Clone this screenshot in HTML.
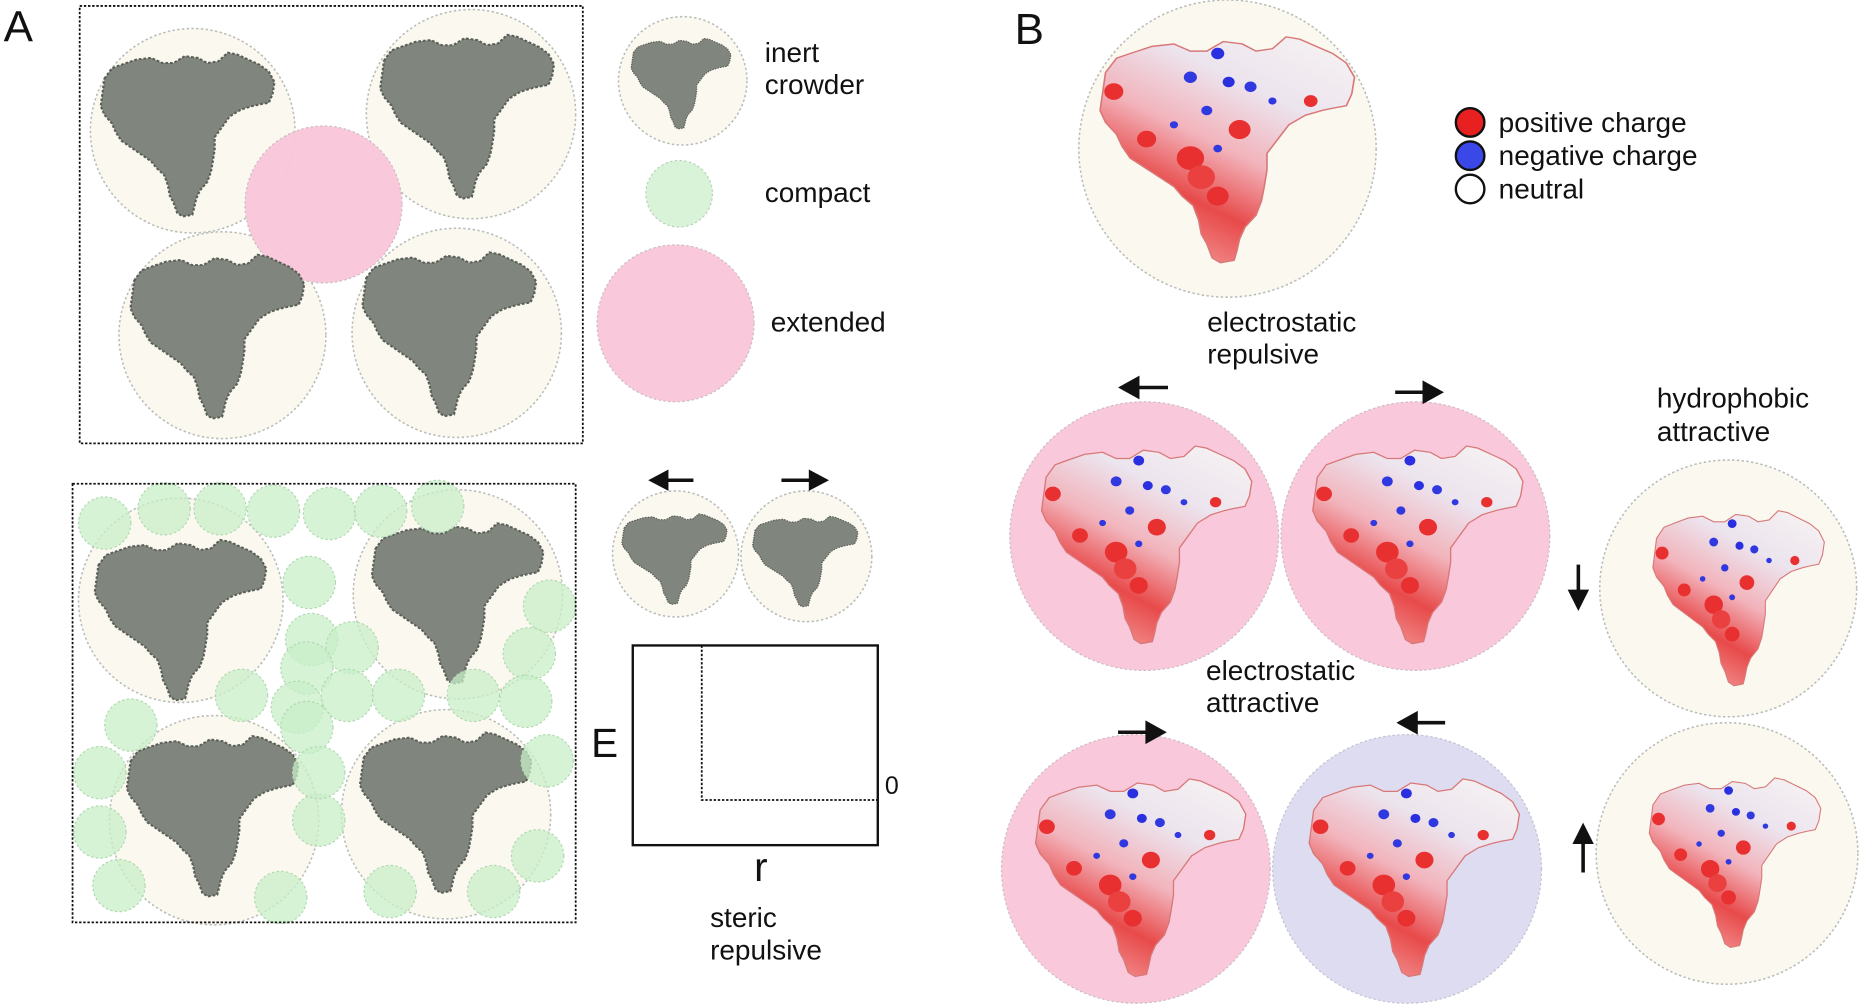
<!DOCTYPE html>
<html><head><meta charset="utf-8"><style>
html,body{margin:0;padding:0;background:#fff;}
svg{display:block;}
text{font-family:"Liberation Sans",sans-serif;fill:#111;}
</style></head><body>
<svg width="1865" height="1008" viewBox="0 0 1568 848" preserveAspectRatio="none" xmlns="http://www.w3.org/2000/svg">
<defs>
<path id="prot" d="M5,18 L9,12 L14,10 L22,7 L30,6 L36,9 L42,9 L48,5 L55,6 L60,9 L66,8 L71,3 L76,4 L82,7 L88,10 L93,14 L96,20 L95,27 L93,32 L88,33 L84,34 L78,36 L72,40 L68,46 L64,52 L64,59 L63,66 L62,72 L60,78 L56,83 L54,88 L53,93 L52,97 L47,98 L44,96 L42,90 L40,86 L39,80 L37,74 L33,70 L30,66 L26,63 L22,60 L18,57 L14,54 L11,49 L9,44 L5,39 L3,34 L4,26 Z"/>
<linearGradient id="elec" x1="0.9" y1="0" x2="0.35" y2="1">
<stop offset="0" stop-color="#f6f2f2"/><stop offset="0.3" stop-color="#ece4ee"/><stop offset="0.55" stop-color="#f2b4bc"/><stop offset="0.78" stop-color="#e84a4a"/><stop offset="1" stop-color="#f29090"/>
</linearGradient>
<g id="eprot">
<use href="#prot" fill="url(#elec)" stroke="#d87878" stroke-width="0.6"/>
<circle cx="46" cy="10" r="2.4" fill="#2a30e0"/><circle cx="36" cy="20" r="2.4" fill="#3038e0"/><circle cx="50" cy="22" r="2.2" fill="#2a30e0"/><circle cx="58" cy="24" r="2.2" fill="#3038e0"/><circle cx="42" cy="34" r="2" fill="#3038e0"/><circle cx="30" cy="40" r="1.5" fill="#3038e0"/><circle cx="46" cy="50" r="1.6" fill="#3038e0"/><circle cx="66" cy="30" r="1.5" fill="#3038e0"/>
<circle cx="8" cy="26" r="3.5" fill="#e83030"/><circle cx="20" cy="46" r="3.5" fill="#e83030"/><circle cx="36" cy="54" r="5" fill="#e83030"/><circle cx="54" cy="42" r="4" fill="#e83030"/><circle cx="46" cy="70" r="4" fill="#e83030"/><circle cx="80" cy="30" r="2.5" fill="#e83030"/><circle cx="40" cy="62" r="5" fill="#ea4040"/>
</g>
<g id="gprot"><use href="#prot" fill="#80867e" stroke="#5a6058" stroke-width="1.2" stroke-dasharray="1.5 1"/></g>
</defs>
<g fill="#faf8ef" stroke="#b8bdb8" stroke-width="1.3" stroke-dasharray="2 2">
<circle cx="162" cy="110" r="86"/>
<circle cx="396" cy="96" r="88"/>
<circle cx="187" cy="282" r="87"/>
<circle cx="384" cy="280" r="88"/>
<circle cx="574" cy="68" r="54"/>
<circle cx="152" cy="505" r="86"/>
<circle cx="385" cy="500" r="88"/>
<circle cx="180" cy="690" r="88"/>
<circle cx="375" cy="685" r="88"/>
<circle cx="568" cy="466" r="53"/>
<circle cx="678" cy="468" r="55"/>
<circle cx="1032" cy="125" r="125"/>
<circle cx="1453" cy="495" r="108"/>
<circle cx="1452" cy="718" r="110"/>
</g>
<g fill="#f9c6da" stroke="#c8b8c0" stroke-width="1" stroke-dasharray="2 2" opacity="0.95">
<circle cx="272" cy="172" r="66"/>
<circle cx="568" cy="272" r="66"/>
<circle cx="962" cy="451" r="113"/>
<circle cx="1190" cy="451" r="113"/>
<circle cx="955" cy="731" r="113"/>
</g>
<circle cx="1183" cy="731" r="113" fill="#dedcf0" stroke="#c0c0d0" stroke-dasharray="2 2"/>
<circle cx="571" cy="163" r="28" fill="#d8f3d8" stroke="#b8d0b8" stroke-dasharray="2 2"/>
<g>
<use href="#gprot" transform="translate(80,40) scale(1.57,1.45)"/>
<use href="#gprot" transform="translate(315,25) scale(1.57,1.45)"/>
<use href="#gprot" transform="translate(105,210) scale(1.57,1.45)"/>
<use href="#gprot" transform="translate(300,208) scale(1.57,1.45)"/>
<use href="#gprot" transform="translate(528,30) scale(0.9,0.8)"/>
<use href="#gprot" transform="translate(75,450) scale(1.55,1.42)"/>
<use href="#gprot" transform="translate(308,436) scale(1.55,1.42)"/>
<use href="#gprot" transform="translate(102,615) scale(1.55,1.42)"/>
<use href="#gprot" transform="translate(298,612) scale(1.55,1.42)"/>
<use href="#gprot" transform="translate(520,430) scale(0.95,0.8)"/>
<use href="#gprot" transform="translate(630,432) scale(0.95,0.8)"/>
</g>
<g fill="#c8efc8" fill-opacity="0.75" stroke="#b0d8b0" stroke-dasharray="2 2">
<circle cx="88" cy="440" r="22"/><circle cx="138" cy="428" r="22"/><circle cx="185" cy="428" r="22"/><circle cx="230" cy="430" r="22"/><circle cx="277" cy="432" r="22"/><circle cx="320" cy="430" r="22"/><circle cx="368" cy="426" r="22"/>
<circle cx="260" cy="490" r="22"/><circle cx="262" cy="538" r="22"/><circle cx="296" cy="545" r="22"/><circle cx="258" cy="562" r="22"/><circle cx="462" cy="510" r="22"/><circle cx="445" cy="550" r="22"/>
<circle cx="203" cy="585" r="22"/><circle cx="250" cy="595" r="22"/><circle cx="292" cy="585" r="22"/><circle cx="335" cy="585" r="22"/><circle cx="398" cy="585" r="22"/><circle cx="442" cy="590" r="22"/>
<circle cx="110" cy="610" r="22"/><circle cx="84" cy="650" r="22"/><circle cx="258" cy="612" r="22"/><circle cx="460" cy="640" r="22"/><circle cx="84" cy="700" r="22"/><circle cx="268" cy="690" r="22"/><circle cx="452" cy="720" r="22"/><circle cx="100" cy="745" r="22"/><circle cx="236" cy="755" r="22"/><circle cx="328" cy="750" r="22"/><circle cx="415" cy="750" r="22"/><circle cx="268" cy="650" r="22"/>
</g>
<rect x="67" y="5" width="423" height="368" fill="none" stroke="#111" stroke-width="1.5" stroke-dasharray="2 1.5"/>
<rect x="61" y="407" width="423" height="369" fill="none" stroke="#111" stroke-width="1.5" stroke-dasharray="2 1.5"/>
<g>
<use href="#eprot" transform="translate(918,25) scale(2.3,2.0)"/>
<use href="#eprot" transform="translate(870,370) scale(1.9,1.75)"/>
<use href="#eprot" transform="translate(1098,370) scale(1.9,1.75)"/>
<use href="#eprot" transform="translate(1385,425) scale(1.55,1.55)"/>
<use href="#eprot" transform="translate(865,650) scale(1.9,1.75)"/>
<use href="#eprot" transform="translate(1095,650) scale(1.9,1.75)"/>
<use href="#eprot" transform="translate(1382,650) scale(1.55,1.5)"/>
</g>
<rect x="532" y="543" width="206" height="168" fill="none" stroke="#111" stroke-width="2"/>
<path d="M590,543 V673 H738" fill="none" stroke="#111" stroke-width="1.5" stroke-dasharray="2 1.5"/>
<text x="744" y="668" font-size="21">0</text>
<text x="497" y="637" font-size="34">E</text>
<text x="634" y="741" font-size="34">r</text>
<g fill="#111" stroke="#111" stroke-width="3">
<line x1="560" y1="404" x2="583" y2="404"/><path d="M545,404 L562,395 L562,413 Z" stroke="none"/>
<line x1="657" y1="404" x2="682" y2="404"/><path d="M697,404 L680,395 L680,413 Z" stroke="none"/>
<line x1="955" y1="326" x2="982" y2="326"/><path d="M940,326 L958,316 L958,336 Z" stroke="none"/>
<line x1="1173" y1="330" x2="1198" y2="330"/><path d="M1214,330 L1196,320 L1196,340 Z" stroke="none"/>
<line x1="940" y1="616" x2="965" y2="616"/><path d="M981,616 L963,606 L963,626 Z" stroke="none"/>
<line x1="1190" y1="608" x2="1215" y2="608"/><path d="M1174,608 L1192,598 L1192,618 Z" stroke="none"/>
<line x1="1327" y1="475" x2="1327" y2="498"/><path d="M1327,514 L1318,496 L1336,496 Z" stroke="none"/>
<line x1="1331" y1="710" x2="1331" y2="734"/><path d="M1331,692 L1322,710 L1340,710 Z" stroke="none"/>
</g>
<text x="3" y="35" font-size="37">A</text>
<text x="853" y="37" font-size="37">B</text>
<g font-size="23.5">
<text x="643" y="52">inert</text>
<text x="643" y="79">crowder</text>
<text x="643" y="170">compact</text>
<text x="648" y="279">extended</text>
<text x="597" y="780">steric</text>
<text x="597" y="807">repulsive</text>
<text x="1015" y="279">electrostatic</text>
<text x="1015" y="306">repulsive</text>
<text x="1393" y="343">hydrophobic</text>
<text x="1393" y="371">attractive</text>
<text x="1014" y="572">electrostatic</text>
<text x="1014" y="599">attractive</text>
<text x="1260" y="111">positive charge</text>
<text x="1260" y="139">negative charge</text>
<text x="1260" y="167">neutral</text>
</g>
<g stroke="#111" stroke-width="2">
<ellipse cx="1236" cy="103" rx="12" ry="12" fill="#e82020"/>
<ellipse cx="1236" cy="131" rx="12" ry="12" fill="#3a48e8"/>
<ellipse cx="1236" cy="159" rx="12" ry="12" fill="#fff"/>
</g>
</svg>
</body></html>
